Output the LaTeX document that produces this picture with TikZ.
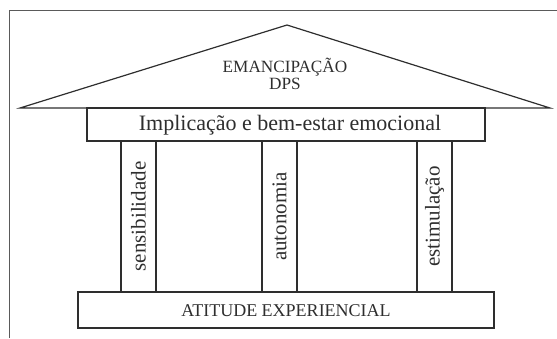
\documentclass[tikz,border=0pt]{standalone}
\usepackage{fontspec}
\setmainfont{Liberation Serif}
\usetikzlibrary{fit}
\definecolor{ink}{HTML}{2E2E2E}
\definecolor{framec}{HTML}{5A5A5A}
\tikzset{
  x=0.5pt, y=-0.5pt,
  box/.style={draw=ink, line width=0.6pt, inner sep=0pt, text=ink},
  pillartext/.style={rotate=90, text=ink, font=\fontsize{10.5}{12}\selectfont, inner sep=0pt},
}
\begin{document}
\begin{tikzpicture}
\useasboundingbox (0,0) rectangle (557,338);
% outer frame (open at right and bottom)
\draw[framec, line width=0.7pt] (9.5,338) -- (9.5,10.5) -- (557,10.5);
% roof
\coordinate (rl) at (20,108);
\coordinate (ra) at (287,25);
\coordinate (rr) at (550,108);
\draw[ink, line width=0.6pt, line join=miter] (rl) -- (ra) -- (rr) -- cycle;
\node[text=ink, align=center, font=\fontsize{8.6}{8.2}\selectfont] (roof) at (285,74) {EMANCIPAÇÃO\\DPS};
% beam
\node[box, fit={(87,108) (485,141)}] (beam) {};
\node[text=ink, font=\fontsize{11}{13}\selectfont] (beamtext) at (290,125) {Implicação e bem-estar emocional};
% pillars
\node[box, fit={(121,141) (156,292)}] (p1) {};
\node[box, fit={(262,141) (297,292)}] (p2) {};
\node[box, fit={(417,141) (452,292)}] (p3) {};
\node[pillartext] (t1) at (p1.center) {sensibilidade};
\node[pillartext] (t2) at (p2.center) {autonomia};
\node[pillartext] (t3) at (p3.center) {estimulação};
% base
\node[box, fit={(78,292) (494,328)}] (base) {};
\node[text=ink, font=\fontsize{9}{11}\selectfont] (basetext) at (286,311) {ATITUDE EXPERIENCIAL};
\end{tikzpicture}
\end{document}
